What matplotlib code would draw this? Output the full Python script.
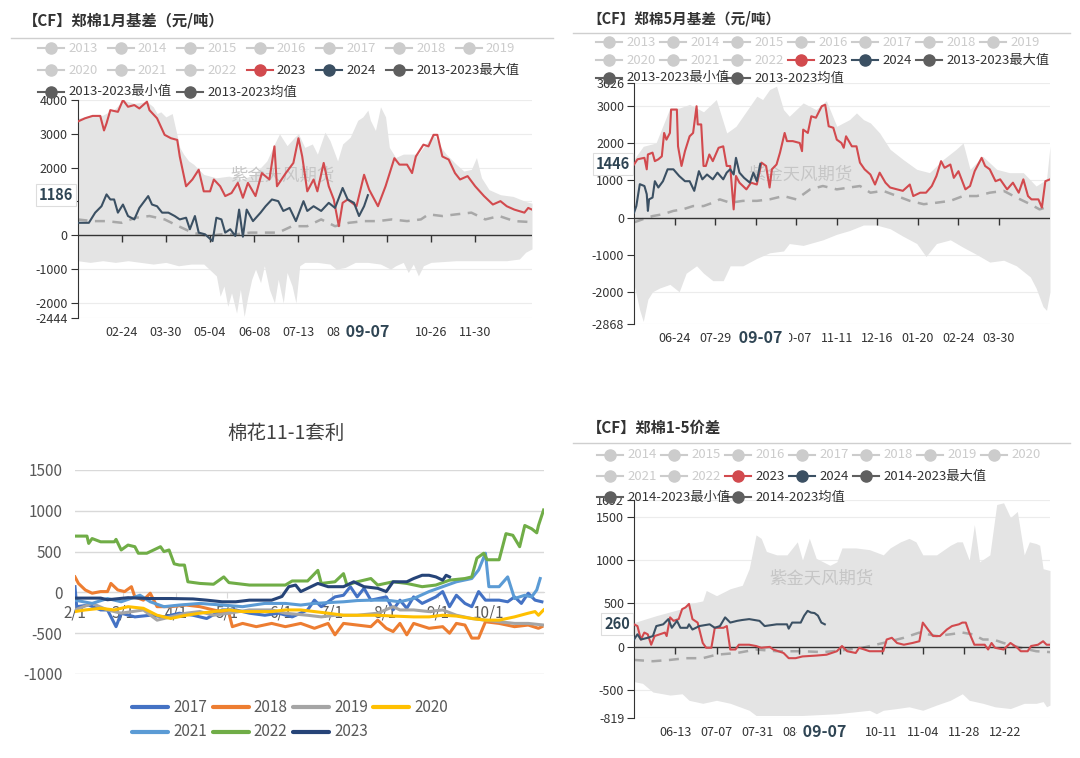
import numpy as np
import matplotlib.pyplot as plt
from matplotlib.lines import Line2D

plt.rcParams['font.family'] = ['Noto Sans CJK SC', 'DejaVu Sans']
plt.rcParams['axes.unicode_minus'] = False

# ---------------- data ----------------
# 郑棉1月基差 (day index from ~01-20)
TL_RED_DAY = [0,6,12,18,21,23,26,32,36,40,45,49,55,57,63,69,74,79,81,86,91,96,100,105,108,113,117,122,127,131,
              135,141,146,152,156,158,165,171,175,178,182,187,190,195,199,203,207,210,214,221,227,231,238,244,251,
              255,261,265,268,274,278,282,285,289,294,299,303,309,315,322,329,335,340,346,354,357,360]
TL_RED_VAL = [3360,3460,3530,3530,3100,3310,3700,3650,4000,3800,3850,3750,3950,3700,3460,2970,2870,2820,2330,1450,
              1650,1940,1300,1300,1650,1450,1160,1250,1550,1110,1550,1160,1840,1650,2630,1450,1840,2140,2870,2330,
              1300,1650,1300,2140,1450,1060,270,960,1060,860,1790,1350,860,1450,2280,2090,2090,1840,2330,2680,
              2630,2970,2970,2330,2240,1840,1650,1750,1450,1160,910,1010,860,760,670,810,760]
TL_NOW_DAY = [0,9,14,19,23,26,29,32,36,40,45,49,56,59,63,67,72,77,81,86,89,93,96,101,107,110,114,117,121,125,
              128,131,134,139,145,149,154,159,163,168,173,179,182,187,193,199,204,210,214,219,223,227,230]
TL_NOW_VAL = [370,370,670,860,1210,1060,1060,670,910,570,470,810,1160,910,860,670,670,570,470,520,180,570,80,30,
              -170,520,470,80,180,-20,760,-40,760,420,670,860,1060,1010,720,810,420,1010,720,860,720,960,810,1400,
              1060,960,570,860,1186]
TL_MEAN_DAY = [0,12,23,35,46,57,69,80,91,103,114,125,137,148,159,170,182,193,204,215,227,238,249,261,272,278,
               289,300,312,323,334,346,360]
TL_MEAN_VAL = [470,420,420,370,520,570,470,270,80,-20,30,30,80,80,80,270,270,470,270,370,420,420,470,420,470,620,
               570,620,670,470,570,420,390]
TL_MAX_DAY = [0,10,20,30,36,45,55,60,63,66,70,75,78,81,84,88,92,96,100,110,120,130,140,150,156,160,166,172,175,180,
              186,190,196,200,206,210,216,222,226,230,232,236,240,244,247,252,258,265,270,276,282,286,292,300,306,
              312,316,320,326,335,345,355,360]
TL_MAX_VAL = [3450,3550,3550,3750,4000,3900,3950,3800,3600,3650,3500,3600,3100,2600,2400,2200,2100,1950,1800,1700,
              1750,1650,1800,2200,2700,3000,2650,2900,3000,2600,2700,2400,3050,2800,2200,2700,2900,3400,3500,3700,
              3400,3100,3800,3500,2600,2300,2400,2400,2400,2700,3000,2700,2400,2100,1900,1950,2300,1700,1350,1200,
              1150,1000,950]
TL_MIN_DAY = [0,10,20,30,40,50,60,70,80,90,100,110,113,116,119,122,126,129,132,135,138,141,145,148,152,156,159,163,
              166,170,173,176,180,190,200,205,212,220,230,240,248,252,258,262,266,270,274,280,300,320,340,350,355,360]
TL_MIN_VAL = [-750,-800,-750,-800,-750,-800,-850,-800,-900,-850,-850,-1200,-1800,-1500,-2100,-1700,-2300,-1600,-2400,
              -1800,-1300,-1000,-1400,-900,-1600,-2000,-1300,-2000,-1100,-1500,-2000,-900,-800,-800,-850,-1000,-950,
              -800,-800,-850,-1000,-900,-800,-1100,-850,-1200,-900,-800,-750,-750,-750,-700,-500,-400]
TL_TICKS = [35,70,105,140,175,210,245,280,315]
TL_LABELS = ['02-24','03-30','05-04','06-08','07-13','08-17','09-21','10-26','11-30']

# 郑棉5月基差 (day index from ~05-20)
TR_RED_DAY = [0,3,9,11,12,16,18,21,24,26,28,31,32,37,38,41,44,48,51,54,55,58,60,62,65,68,73,77,80,83,86,88,91,97,
              101,106,110,114,117,119,123,126,130,132,137,143,145,146,150,153,157,162,165,168,172,175,179,181,183,
              188,192,195,199,204,208,212,217,221,227,232,238,241,247,252,257,261,265,268,273,276,280,286,290,294,
              300,303,307,312,316,322,327,332,336,340,343,349,352,355,359]
TR_RED_VAL = [1430,1570,1610,1300,1700,1750,1520,1570,1650,2280,2100,2280,2910,2910,1920,1390,1790,2190,2280,3000,
              2510,2510,1390,1390,1700,1520,1880,1920,1390,1390,220,1120,940,760,940,890,1480,1390,810,1300,1430,
              1750,2280,2060,2060,2010,1790,2370,2280,2730,2690,3000,3040,2460,2420,2100,2010,1880,2190,1920,1920,
              1480,1300,1160,890,1210,940,810,760,720,890,580,670,670,850,1120,1520,1340,1430,1070,1250,760,850,
              1250,1610,1390,1300,980,1030,760,940,670,1030,580,490,490,270,980,1030]
TR_NOW_DAY = [0,2,5,9,11,12,13,16,18,21,25,29,34,39,44,48,52,56,59,63,68,72,77,80,83,86,88,91,95,100,103,106,109]
TR_NOW_VAL = [130,310,900,850,630,180,490,540,980,810,980,1300,1300,1120,980,980,720,1250,1030,1160,1030,1210,1030,
              1210,1300,1160,1610,1210,1070,940,1210,980,1446]
TR_MEAN_DAY = [0,8,16,25,34,42,51,60,68,74,83,94,106,117,129,140,152,163,175,186,195,204,215,227,238,250,261,273,
               284,296,307,319,330,342,350,359]
TR_MEAN_VAL = [-130,-40,40,90,180,220,310,310,400,490,400,450,450,490,580,490,760,850,760,810,850,670,720,580,450,
               360,400,450,580,580,670,720,540,360,220,310]
TR_MAX_DAY = [0,8,19,31,39,48,60,71,80,88,100,106,111,117,123,129,134,146,157,166,175,186,192,198,204,212,221,232,
              244,255,267,278,284,290,301,313,324,336,347,356,359]
TR_MAX_VAL = [1570,1920,2010,2950,2950,3050,2850,3180,2280,2460,3000,3270,3180,3450,3540,2910,2730,3090,2910,3150,
              2460,2640,2820,2640,2550,2280,1840,1570,1300,1210,1570,1840,2010,1300,1650,1300,1210,1210,850,1030,1920]
TR_MIN_DAY = [0,5,8,12,16,22,31,39,45,54,60,68,77,83,94,106,117,129,134,146,163,175,186,198,209,221,232,244,252,
              261,273,284,296,307,319,330,342,347,353,356,359]
TR_MIN_VAL = [-1800,-2500,-2800,-2200,-2000,-1900,-1800,-2000,-1500,-1300,-1500,-1700,-1700,-1300,-1300,-1100,-950,
              -900,-700,-750,-600,-450,-350,-200,-200,-300,-500,-700,-1050,-700,-600,-800,-1000,-1200,-1150,-1300,
              -1600,-1900,-2400,-2500,-2000]
TR_TICKS = [35,70,105,140,175,210,245,280,315]
TR_LABELS = ['06-24','07-29','09-02','10-07','11-11','12-16','01-20','02-24','03-30']

# 郑棉1-5价差 (day index from ~05-19)
BR_RED_DAY = [0,2,4,6,8,10,12,15,18,19,21,23,26,28,30,32,34,37,40,42,45,47,49,52,54,56,59,61,67,71,74,79,81,87,90,
              94,98,106,112,118,121,124,129,131,137,145,147,150,153,157,162,166,168,171,174,178,182,185,189,191,193,
              195,198,204,206,208,210,215,219,223,225,229,231,235,238,240,242]
BR_RED_VAL = [260,240,85,165,145,25,125,145,165,125,340,300,320,435,455,495,320,280,45,-10,-10,220,220,220,240,-30,
              -30,25,25,10,-10,0,-30,-70,-130,-130,-110,-100,-90,-50,10,-50,-70,-10,-50,-50,85,105,45,25,45,65,280,
              200,125,125,200,240,260,280,280,165,25,25,-30,45,-10,-30,45,-10,-50,-50,10,25,65,25,25]
BR_NOW_DAY = [0,2,4,8,11,13,17,20,22,25,27,31,32,34,38,44,47,50,53,56,60,63,67,73,76,83,89,90,92,97,99,101,103,105,
              107,109,111]
BR_NOW_VAL = [85,145,85,105,125,240,260,320,220,300,220,220,260,200,240,260,220,240,340,280,300,310,320,300,240,260,
              260,210,280,280,360,415,395,390,360,280,260]
BR_MEAN_DAY = [0,11,21,30,40,48,60,71,83,98,110,121,133,145,157,166,176,184,191,197,203,209,215,225,234,242]
BR_MEAN_VAL = [-150,-165,-150,-130,-130,-90,-70,-30,-50,-50,-60,-40,-10,45,105,165,125,145,165,145,85,85,45,-10,-50,-60]
BR_MAX_DAY = [0,13,27,32,40,42,48,56,63,67,71,74,77,83,89,95,98,102,106,114,118,121,129,137,145,149,155,160,164,168,
              176,184,188,191,195,198,201,207,211,215,219,223,227,230,234,236,238,242]
BR_MAX_VAL = [280,360,435,495,530,650,590,670,710,900,1290,1250,1100,1060,1060,1210,1000,1250,1020,940,980,1140,1140,
              1120,1060,1140,1210,1250,1210,1060,1060,1170,1210,1210,1000,1410,980,1060,1640,1660,1490,1560,1060,1210,
              1190,1170,900,880]
BR_MIN_DAY = [0,5,11,21,28,32,40,48,56,67,71,79,98,118,137,141,145,153,160,168,176,184,191,195,203,210,219,227,234,
              238,240,242]
BR_MIN_VAL = [-400,-420,-520,-555,-540,-615,-650,-615,-650,-730,-790,-790,-790,-770,-730,-770,-730,-710,-690,-730,
              -670,-615,-540,-615,-650,-690,-710,-650,-650,-630,-690,-670]
BR_TICKS = [24,48,72,96,120,144,168,192,216]
BR_LABELS = ['06-13','07-07','07-31','08-24','09-17','10-11','11-04','11-28','12-22']

# 棉花11-1套利 (day index from 2/1)
BL_2017_DAY = [0,1,8,15,19,24,27,35,44,52,61,69,77,86,94,102,111,119,127,136,140,144,152,157,161,165,169,173,182,
               186,190,194,198,203,211,215,219,223,228,232,236,240,248,253,257,261,265,269,273]
BL_2017_VAL = [70,-175,-155,-215,-215,-420,-255,-300,-280,-300,-255,-280,-320,-215,-215,-255,-280,-255,-300,-215,
               -95,-175,-55,-35,70,-55,50,-95,-55,-215,-95,-195,-55,-135,-55,10,-175,-35,-135,-175,10,-95,-95,-115,
               -55,-135,-10,-95,-115]
BL_2018_DAY = [0,2,6,10,15,19,21,25,29,33,35,40,44,48,56,65,73,81,90,92,98,106,115,123,132,140,148,152,157,165,173,
               177,182,186,190,194,198,207,215,219,223,228,232,236,240,248,257,265,271,273]
BL_2018_VAL = [190,110,30,-10,10,10,110,30,10,70,-55,-95,-10,-175,-175,-155,-175,-215,-255,-420,-380,-420,-380,-420,
               -380,-440,-380,-520,-380,-400,-420,-340,-440,-480,-380,-520,-380,-440,-420,-500,-380,-400,-560,-560,
               -360,-380,-420,-400,-440,-420]
BL_2019_DAY = [0,10,19,27,40,48,56,65,73,81,90,102,115,123,136,144,152,165,177,186,190,198,207,215,223,232,240,248,
               257,265,274]
BL_2019_VAL = [-215,-135,-215,-255,-215,-340,-300,-255,-235,-280,-255,-215,-215,-255,-280,-300,-280,-280,-255,-175,
               -215,-215,-235,-215,-280,-320,-340,-360,-380,-380,-400]
BL_2020_DAY = [0,6,15,23,31,40,48,56,65,73,81,90,98,106,115,123,132,140,148,157,165,177,186,198,207,215,223,232,240,
               248,257,265,269,271,274]
BL_2020_VAL = [-235,-215,-195,-215,-175,-195,-280,-320,-280,-255,-235,-215,-235,-235,-235,-215,-215,-235,-255,-280,
               -280,-280,-290,-300,-300,-280,-290,-320,-340,-340,-300,-255,-235,-280,-215]
BL_2021_DAY = [0,10,19,27,38,44,52,61,73,86,98,111,123,132,140,148,157,165,173,182,190,198,207,215,223,232,236,240,
               242,248,253,257,263,267,270,272]
BL_2021_VAL = [-95,-135,-75,-115,-35,-115,-175,-155,-135,-155,-175,-135,-135,-155,-135,-125,-115,-100,-95,-95,-115,
               -75,10,70,130,170,275,480,70,70,190,-75,-35,-55,30,170]
BL_2022_DAY = [0,7,8,10,15,23,24,27,31,35,37,42,46,50,52,55,58,61,64,66,73,81,87,90,102,123,127,136,142,144,152,157,
               159,165,173,177,186,194,203,211,219,228,232,235,239,241,248,252,256,260,263,267,270,271,274]
BL_2022_VAL = [690,690,600,660,620,620,650,520,580,560,480,480,520,560,500,520,350,335,335,130,110,100,190,120,90,90,
               140,140,270,110,130,230,90,130,170,90,130,110,70,90,150,170,190,420,480,400,400,720,700,560,820,780,
               730,820,1010]
BL_2023_DAY = [0,15,19,31,44,56,69,77,86,94,102,115,121,125,129,132,138,142,148,157,163,169,177,182,186,194,198,203,
               207,211,215,217,219]
BL_2023_VAL = [-70,-70,-90,-65,-75,-75,-80,-95,-115,-115,-95,-95,-50,70,90,10,70,110,70,70,130,70,50,10,130,130,170,
               210,210,190,150,210,190]
BL_MONTH_DAYS = [0,28,59,89,120,150,181,212,242]
BL_MONTH_LABELS = ['2/1','3/1','4/1','5/1','6/1','7/1','8/1','9/1','10/1']

W, H = 1080, 758
fig = plt.figure(figsize=(10.8, 7.58), dpi=100)


def fx(x):
    return x / W


def fy(y):
    return 1 - y / H


def add_ax(left, top, right, bottom):
    return fig.add_axes([fx(left), fy(bottom), (right - left) / W, (bottom - top) / H])


BAND = '#e4e4e4'
RED = '#d24a4e'
DARK = '#3b5063'
MEAN = '#a8a8a8'
INACT = '#cccccc'
STAT = '#5f5f5f'


def header(x, y, text, rule_y, x0, x1, size):
    fig.text(fx(x), fy(y), text, fontsize=size, fontweight='bold', color='#333333', va='center', ha='left')
    fig.add_artist(Line2D([fx(x0), fx(x1)], [fy(rule_y), fy(rule_y)], color='#cfcfcf', lw=1,
                          transform=fig.transFigure))


def echarts_legend(x0, dx, ys, rows):
    for r, row in enumerate(rows):
        slot = 0
        for lab in row:
            if lab == '2023':
                c, tc = RED, '#333333'
            elif lab == '2024':
                c, tc = DARK, '#333333'
            elif len(lab) > 4:
                c, tc = STAT, '#333333'
            else:
                c, tc = INACT, INACT
            x = x0 + slot * dx
            y = ys[r]
            fig.add_artist(Line2D([fx(x - 13), fx(x + 13)], [fy(y), fy(y)], color=c, lw=1.5,
                                  transform=fig.transFigure))
            fig.add_artist(Line2D([fx(x)], [fy(y)], marker='o', ms=8, color=c, mec=c,
                                  transform=fig.transFigure))
            fig.text(fx(x + 17), fy(y), lab, fontsize=9.5, color=tc, va='center', ha='left')
            slot += 2 if len(lab) > 4 else 1


def basis_panel(ax, ylim, yticks, xlim, ticks, labels, mx, mn, mean, red, now, wm):
    ax.fill_between(mx[0], 0, mx[1], color=BAND, lw=0, zorder=1)
    ax.fill_between(mn[0], mn[1], 0, color=BAND, lw=0, zorder=1)
    ax.text(wm[0], wm[1], '紫金天风期货', transform=ax.transAxes, fontsize=12.5, color='#c6c6c6',
            ha='center', va='center', zorder=1.5)
    ax.plot(mean[0], mean[1], color=MEAN, lw=1.8, ls=(0, (4, 3)), zorder=2)
    ax.plot(red[0], red[1], color=RED, lw=1.5, zorder=3)
    ax.plot(now[0], now[1], color=DARK, lw=1.5, zorder=3)
    ax.axhline(0, color='#333333', lw=1, zorder=2.6)
    ax.plot(ticks, [0] * len(ticks), ls='none', marker=3, ms=5, mew=1, color='#333333', zorder=2.6)
    ax.set_xlim(*xlim)
    ax.set_ylim(*ylim)
    ax.set_yticks(yticks)
    ax.set_yticklabels([str(v) for v in yticks])
    ax.set_xticks(ticks)
    ax.set_xticklabels(labels)
    ax.grid(axis='y', color='#ececec', lw=0.8)
    ax.set_axisbelow(True)
    for s in ['top', 'right', 'bottom']:
        ax.spines[s].set_visible(False)
    ax.spines['left'].set_color('#333333')
    ax.tick_params(axis='y', length=5, color='#333333', labelsize=9, labelcolor='#333333', pad=2)
    ax.tick_params(axis='x', length=0, labelsize=9, labelcolor='#333333', pad=6)
    ax.patch.set_alpha(0)

    # axis pointer labels at the latest 2024 point; its box hides the tick labels underneath
    ptr_x = now[0][-1]
    px_per_day = ax.get_position().width * W / (xlim[1] - xlim[0])
    for t, lab in zip(ticks, ax.get_xticklabels()):
        if abs(t - ptr_x) * px_per_day < 22:
            lab.set_visible(False)
    ax.annotate(' 09-07 ', xy=(ptr_x, 0), xycoords=('data', 'axes fraction'), xytext=(0, -4),
                textcoords='offset points', ha='center', va='top', fontsize=11.5, fontweight='bold',
                color='#2f4554', zorder=5, bbox=dict(fc='white', ec='none', pad=2))
    ax.annotate(f'{now[1][-1]:.0f}', xy=(0, now[1][-1]), xycoords=('axes fraction', 'data'), xytext=(-3, 0),
                textcoords='offset points', ha='right', va='center', fontsize=10.5, fontweight='bold',
                color='#2f4554', zorder=5,
                bbox=dict(fc='white', ec='#dddddd', lw=0.8, boxstyle='square,pad=0.2'))


# ---- top-left: 郑棉1月基差 ----
header(23, 20, '【CF】郑棉1月基差（元/吨）', 38, 11, 553, 11)
echarts_legend(51, 69.6, [48, 70, 92],
               [['2013', '2014', '2015', '2016', '2017', '2018', '2019'],
                ['2020', '2021', '2022', '2023', '2024', '2013-2023最大值'],
                ['2013-2023最小值', '2013-2023均值']])
ax1 = add_ax(77.5, 100, 532, 318)
basis_panel(ax1, (-2444, 4000), [-2444, -2000, -1000, 0, 1000, 2000, 3000, 4000], (0, 360),
            TL_TICKS, TL_LABELS, (TL_MAX_DAY, TL_MAX_VAL), (TL_MIN_DAY, TL_MIN_VAL),
            (TL_MEAN_DAY, TL_MEAN_VAL), (TL_RED_DAY, TL_RED_VAL), (TL_NOW_DAY, TL_NOW_VAL), (0.45, 0.655))

# ---- top-right: 郑棉5月基差 ----
header(587, 18, '【CF】郑棉5月基差（元/吨）', 33, 573, 1070, 10.5)
echarts_legend(609, 64, [42, 60, 78],
               [['2013', '2014', '2015', '2016', '2017', '2018', '2019'],
                ['2020', '2021', '2022', '2023', '2024', '2013-2023最大值'],
                ['2013-2023最小值', '2013-2023均值']])
ax2 = add_ax(634, 83, 1050, 324)
basis_panel(ax2, (-2868, 3626), [-2868, -2000, -1000, 0, 1000, 2000, 3000, 3626], (0, 359),
            TR_TICKS, TR_LABELS, (TR_MAX_DAY, TR_MAX_VAL), (TR_MIN_DAY, TR_MIN_VAL),
            (TR_MEAN_DAY, TR_MEAN_VAL), (TR_RED_DAY, TR_RED_VAL), (TR_NOW_DAY, TR_NOW_VAL), (0.40, 0.62))

# ---- bottom-right: 郑棉1-5价差 ----
header(587, 428, '【CF】郑棉1-5价差', 443, 573, 1070, 11)
echarts_legend(610, 64, [455, 476, 497],
               [['2014', '2015', '2016', '2017', '2018', '2019', '2020'],
                ['2021', '2022', '2023', '2024', '2014-2023最大值'],
                ['2014-2023最小值', '2014-2023均值']])
ax3 = add_ax(634, 500, 1050, 718)
basis_panel(ax3, (-819, 1692), [-819, -500, 0, 500, 1000, 1500, 1692], (0, 242),
            BR_TICKS, BR_LABELS, (BR_MAX_DAY, BR_MAX_VAL), (BR_MIN_DAY, BR_MIN_VAL),
            (BR_MEAN_DAY, BR_MEAN_VAL), (BR_RED_DAY, BR_RED_VAL), (BR_NOW_DAY, BR_NOW_VAL), (0.45, 0.64))

# ---- bottom-left: 棉花11-1套利 (Excel style) ----
fig.text(fx(286), fy(433), '棉花11-1套利', fontsize=14, color='#404040', ha='center', va='center')
ax4 = add_ax(75, 470, 543.6, 674)
excel_series = [
    ('2017', BL_2017_DAY, BL_2017_VAL, '#4472C4'),
    ('2018', BL_2018_DAY, BL_2018_VAL, '#ED7D31'),
    ('2019', BL_2019_DAY, BL_2019_VAL, '#A5A5A5'),
    ('2020', BL_2020_DAY, BL_2020_VAL, '#FFC000'),
    ('2021', BL_2021_DAY, BL_2021_VAL, '#5B9BD5'),
    ('2022', BL_2022_DAY, BL_2022_VAL, '#70AD47'),
    ('2023', BL_2023_DAY, BL_2023_VAL, '#264478'),
]
for name, d, v, c in excel_series:
    ax4.plot(d, v, color=c, lw=2.2, solid_joinstyle='round', zorder=3)
ax4.set_xlim(0, 274)
ax4.set_ylim(-1000, 1500)
ax4.set_yticks(range(-1000, 1501, 500))
ax4.set_xticks(BL_MONTH_DAYS)
ax4.set_xticklabels(BL_MONTH_LABELS)
ax4.grid(axis='y', color='#d9d9d9', lw=1)
ax4.set_axisbelow(True)
for s in ['top', 'right', 'left']:
    ax4.spines[s].set_visible(False)
ax4.spines['bottom'].set_position(('data', 0))
ax4.spines['bottom'].set_color('#d9d9d9')
ax4.tick_params(axis='x', length=4, color='#d9d9d9', labelsize=11, labelcolor='#595959', pad=5)
ax4.tick_params(axis='y', length=0, labelsize=11, labelcolor='#595959', pad=9)
ax4.patch.set_alpha(0)

# legend, two rows of four slots
slot_x = [132, 212.5, 293, 373]
for i, (name, d, v, c) in enumerate(excel_series):
    row, col = divmod(i, 4)
    y = 707 + row * 25
    x = slot_x[col]
    fig.add_artist(Line2D([fx(x), fx(x + 36)], [fy(y), fy(y)], color=c, lw=3, solid_capstyle='round',
                          transform=fig.transFigure))
    fig.text(fx(x + 41), fy(y), name, fontsize=11, color='#595959', va='center', ha='left')

fig.savefig('out.png', dpi=100)
